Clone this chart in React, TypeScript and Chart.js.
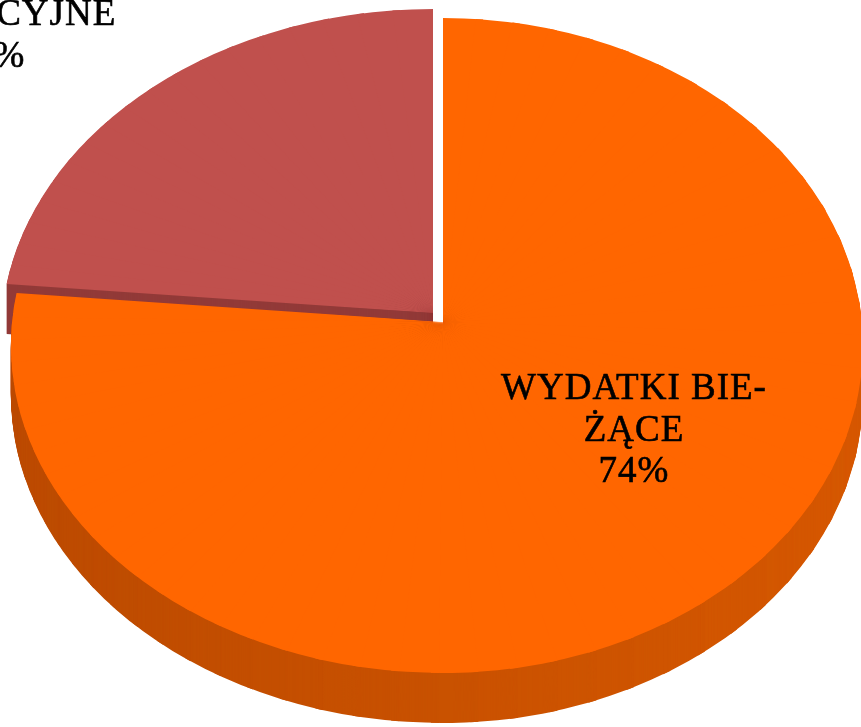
import React, { useEffect, useRef } from "react";
import { Chart, registerables } from "chart.js";

Chart.register(...registerables);

// ---------------- data ----------------
const categories: string[] = ["WYDATKI BIEŻĄCE", "WYDATKI INWESTYCYJNE"];
const values: number[] = [74, 26];
const labelLines: string[][] = [
  ["WYDATKI BIE-", "ŻĄCE"],
  ["WYDATKI IN-", "WESTYCYJNE"],
];

// ---------------- style ----------------
const WIDTH = 861;
const HEIGHT = 727;
const topColors = ["#FF6600", "#C0504D"];
const sideDark = [
  [188, 75, 0],
  [146, 58, 56],
];
const sideLight = [
  [214, 88, 0],
  [152, 61, 59],
];
const APEX = { x: 443, y: 322 };
const RIM = { cy: 345.5, rxL: 432, rxR: 420, ry: 327.5 };
const TWIST = (24.1 * Math.PI) / 180;
const DEPTH = 50;
const EXPLODE = [
  { x: 0, y: 0 },
  { x: -10, y: -9 },
];
const LABEL_POS = [
  { x: 634, y: 399 },
  { x: -10, y: -16.5 },
];
const LINE_H = 41.5;
const FONT = "37px 'Liberation Serif', 'Times New Roman', serif";
const LETTER_SPACING = "1px";
const STEP = (5 * Math.PI) / 180;
const EPS = (0.5 * Math.PI) / 180;

// projection of a rim direction (pie angle) onto the tilted screen ellipse
function warp(a: number) {
  return a + (TWIST * (1 + Math.sin(a))) / 2;
}
function rim(a: number) {
  const t = warp(a);
  const c = Math.cos(t);
  return {
    x: APEX.x + (c < 0 ? RIM.rxL : RIM.rxR) * c,
    y: RIM.cy + RIM.ry * Math.sin(t),
  };
}
function pieceMatrix(a0: number, a1: number) {
  const v1x = Math.cos(a0), v1y = Math.sin(a0);
  const v2x = Math.cos(a1), v2y = Math.sin(a1);
  const p0 = rim(a0), p1 = rim(a1);
  const w1x = p0.x - APEX.x, w1y = p0.y - APEX.y;
  const w2x = p1.x - APEX.x, w2y = p1.y - APEX.y;
  const det = v1x * v2y - v2x * v1y;
  const i11 = v2y / det, i12 = -v2x / det, i21 = -v1y / det, i22 = v1x / det;
  return {
    m11: w1x * i11 + w2x * i21,
    m12: w1x * i12 + w2x * i22,
    m21: w1y * i11 + w2y * i21,
    m22: w1y * i12 + w2y * i22,
  };
}

const fake3d = {
  id: "fake3d",
  beforeDatasetsDraw(chart: any) {
    const ctx: CanvasRenderingContext2D = chart.ctx;
    const meta = chart.getDatasetMeta(0);
    const base = ctx.getTransform();
    const pieces: any[] = [];
    meta.data.forEach((arc: any, i: number) => {
      const s = arc.startAngle, e = arc.endAngle;
      const n = Math.max(1, Math.ceil((e - s) / STEP));
      for (let k = 0; k < n; k++) {
        const a0 = s + ((e - s) * k) / n;
        const a1 = s + ((e - s) * (k + 1)) / n;
        const M = pieceMatrix(a0, a1);
        const u = (Math.cos(warp((a0 + a1) / 2)) + 1) / 2;
        const d = sideDark[i], l = sideLight[i];
        const side = `rgb(${Math.round(d[0] + (l[0] - d[0]) * u)},${Math.round(
          d[1] + (l[1] - d[1]) * u
        )},${Math.round(d[2] + (l[2] - d[2]) * u)})`;
        pieces.push({ i, arc, a0, a1, M, side });
      }
    });

    const drawPiece = (p: any, dx: number, dy: number, color: string) => {
      const { arc, M, a0, a1 } = p;
      const R = arc.outerRadius;
      const cx = arc.x, cy = arc.y;
      ctx.save();
      ctx.setTransform(base);
      ctx.translate(dx, dy);
      const b0 = a0 - EPS, b1 = a1 + EPS;
      const r0x = M.m11 * Math.cos(b0) + M.m12 * Math.sin(b0);
      const r0y = M.m21 * Math.cos(b0) + M.m22 * Math.sin(b0);
      const r1x = M.m11 * Math.cos(b1) + M.m12 * Math.sin(b1);
      const r1y = M.m21 * Math.cos(b1) + M.m22 * Math.sin(b1);
      ctx.beginPath();
      ctx.moveTo(APEX.x, APEX.y);
      ctx.lineTo(APEX.x + 4 * r0x, APEX.y + 4 * r0y);
      ctx.lineTo(APEX.x + 4 * r1x, APEX.y + 4 * r1y);
      ctx.closePath();
      ctx.clip();
      const a = M.m11 / R, b = M.m21 / R, c = M.m12 / R, d = M.m22 / R;
      ctx.transform(a, b, c, d, APEX.x - (a * cx + c * cy), APEX.y - (b * cx + d * cy));
      const proxy = Object.create(arc);
      proxy.options = { ...arc.options, backgroundColor: color, borderWidth: 0, offset: 0, spacing: 0 };
      arc.draw.call(proxy, ctx);
      ctx.restore();
    };

    const order = [1, 0];
    // side walls
    for (const si of order) {
      for (let dd = DEPTH; dd >= 1; dd--) {
        for (const p of pieces) {
          if (p.i !== si) continue;
          drawPiece(p, EXPLODE[si].x, EXPLODE[si].y + dd, p.side);
        }
      }
    }
    // top faces
    for (const si of order) {
      for (const p of pieces) {
        if (p.i !== si) continue;
        drawPiece(p, EXPLODE[si].x, EXPLODE[si].y, topColors[si]);
      }
    }
    return false;
  },
  afterDraw(chart: any) {
    const ctx: CanvasRenderingContext2D = chart.ctx;
    const total = values.reduce((s, v) => s + v, 0);
    ctx.save();
    ctx.font = FONT;
    ctx.fillStyle = "#000000";
    ctx.strokeStyle = "#000000";
    ctx.lineWidth = 0.6;
    ctx.textAlign = "center";
    ctx.textBaseline = "alphabetic";
    (ctx as any).letterSpacing = LETTER_SPACING;
    values.forEach((v, i) => {
      const pct = Math.round((v / total) * 100) + "%";
      const lines = [...labelLines[i], pct];
      lines.forEach((ln, j) => {
        const y = LABEL_POS[i].y + j * LINE_H;
        ctx.fillText(ln, LABEL_POS[i].x, y);
        ctx.strokeText(ln, LABEL_POS[i].x, y);
      });
    });
    ctx.restore();
  },
};

export default function App() {
  const ref = useRef<HTMLCanvasElement | null>(null);
  useEffect(() => {
    document.body.style.margin = "0";
    const canvas = ref.current;
    if (!canvas) return;
    const chart = new Chart(canvas, {
      type: "pie",
      data: {
        labels: categories,
        datasets: [
          {
            data: values,
            backgroundColor: topColors,
            borderWidth: 0,
          },
        ],
      },
      options: {
        responsive: false,
        maintainAspectRatio: false,
        animation: false,
        events: [],
        layout: { padding: 0 },
        plugins: {
          legend: { display: false },
          tooltip: { enabled: false },
          title: { display: false },
        },
      },
      plugins: [fake3d as any],
    });
    return () => chart.destroy();
  }, []);
  return (
    <div style={{ width: WIDTH, height: HEIGHT, background: "#ffffff" }}>
      <canvas ref={ref} width={WIDTH} height={HEIGHT} style={{ display: "block" }} />
    </div>
  );
}
